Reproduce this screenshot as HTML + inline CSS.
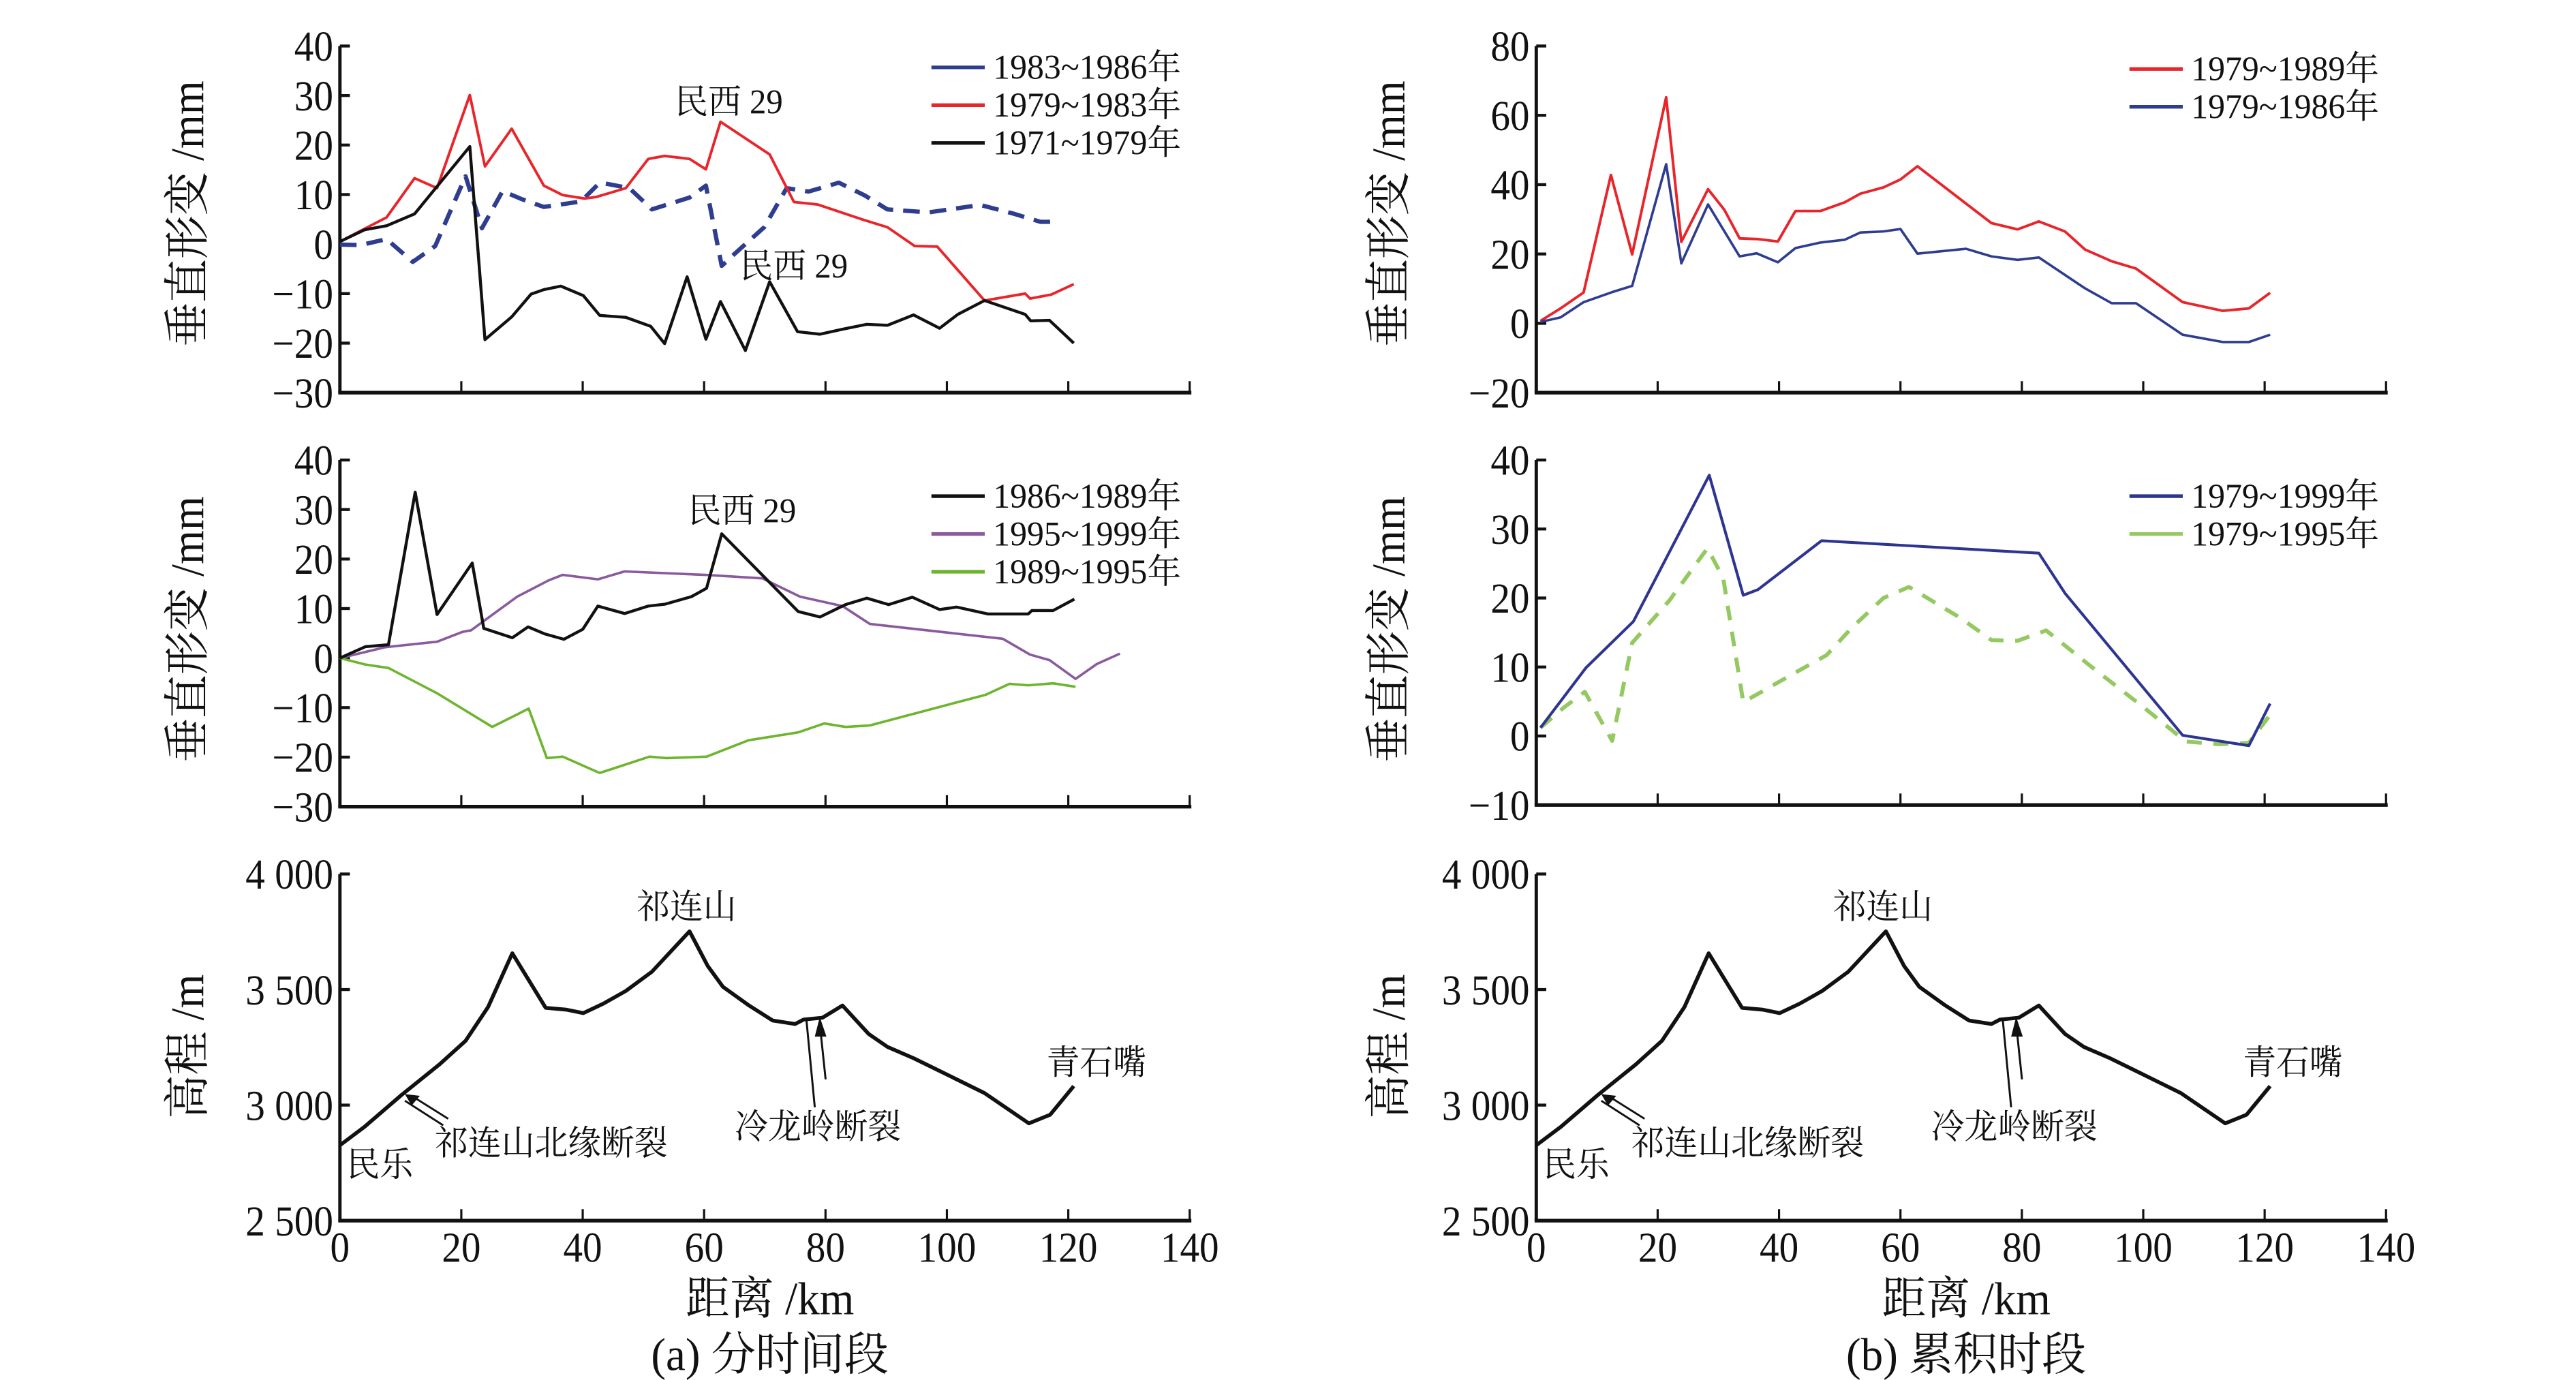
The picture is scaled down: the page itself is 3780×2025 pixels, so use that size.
<!DOCTYPE html>
<html><head><meta charset="utf-8">
<style>
html,body{margin:0;padding:0;background:#fff;}
svg{display:block;}
text{font-family:"Liberation Serif","Noto Serif CJK SC","Noto Sans CJK SC",serif;fill:#111;}
</style></head>
<body>
<svg id="fig" width="3780" height="2025" viewBox="0 0 1546 840" preserveAspectRatio="none" xmlns="http://www.w3.org/2000/svg">
<g id="g"></g>
</svg>
<script>
// ---------- data (x in km, y in mm / m) ----------
const xTicks = [0,20,40,60,80,100,120,140];
const defTicksA = [40,30,20,10,0,-10,-20,-30];
const defTicksC = [80,60,40,20,0,-20];
const defTicksD = [40,30,20,10,0,-10];
const elevTicks = [4000,3500,3000,2500];
const elevTickLabels = ["4 000","3 500","3 000","2 500"];

const s8386x = [0,3.4,7.7,12,15.7,20.7,23.4,26.8,29.9,33.6,39.7,42.8,44.3,47.7,51.4,57.6,60.3,62.9,65,69.9,73.6,77.2,82.2,86.5,90.2,97,105.5,111.1,115.4,117.2];
const s8386y = [-0.1,-0.2,1,-3.6,-0.4,13.7,3.2,10.7,9.1,7.5,8.6,12.4,12.1,11.3,7,9.4,11.8,-4.4,-2,3.4,11.3,10.6,12.4,9.8,7,6.4,7.9,6.1,4.5,4.5];
const s7983x = [0,7.7,12.3,16,21.4,23.9,28.3,33.6,36.7,40.3,42.2,47.1,50.8,53.5,57.6,60.3,62.7,70.8,74.8,78.7,86.5,90.2,94.7,98.4,106.2,112.9,113.7,117.2,120.9];
const s7983y = [0.5,5.4,13.3,11.3,30.1,15.7,23.3,11.8,9.9,9.2,9.5,11.3,17.2,17.8,17.2,15.1,24.7,18.1,8.5,8,4.8,3.4,-0.4,-0.5,-11.4,-10,-11,-10.2,-8.1];
const s7179x = [0,4.1,7.7,12.3,21.4,23.9,28.3,31.5,33.6,36.4,40.1,42.8,47.1,51.2,53.5,57.2,60.3,62.7,66.8,70.8,75.4,79.1,82.8,86.8,90.2,94.5,98.8,101.8,106.2,112.9,113.8,116.9,120.9];
const s7179y = [0.5,2.9,3.7,6.1,19.7,-19.3,-14.7,-10.1,-9.2,-8.5,-10.4,-14.4,-14.8,-16.6,-20.1,-6.6,-19.2,-11.6,-21.5,-7.6,-17.7,-18.2,-17.2,-16.2,-16.4,-14.3,-17,-14.2,-11.4,-14.2,-15.5,-15.4,-20];

const s8689x = [0,4.2,8,12.4,16,21.8,23.7,28.4,31,33.7,36.9,40,42.5,46.9,50.8,53.6,57.9,60.4,62.9,75.5,79.1,83.3,86.8,90.4,94.3,98.8,101.6,106.8,113.4,114,117.5,121];
const s8689y = [0,2.3,2.7,33.5,8.8,19.2,6,4.1,6.3,4.9,3.8,5.8,10.5,9,10.5,10.9,12.4,14.1,25.1,9.4,8.3,10.8,12.1,10.8,12.3,9.8,10.3,8.9,8.9,9.6,9.6,11.9];
const s9599x = [0,7.5,16,20.2,21.6,29.2,34.4,36.7,42.5,46.9,60.2,69.6,75.8,82.8,87.3,109.2,113.7,116.9,121.2,124.7,128.5];
const s9599y = [0,2.2,3.3,5.3,5.6,12.4,15.7,16.8,15.9,17.5,16.8,16.1,12.4,10.5,6.9,3.9,0.7,-0.4,-4.2,-1.2,0.9];
const s8995x = [0,4.2,8,16,25.1,31.1,34.1,36.7,42.8,51,53.8,60.4,67.3,75.5,79.8,83.3,87.3,106.4,110.3,113.4,117.5,121.2];
const s8995y = [0,-1.3,-2,-7.1,-13.9,-10.2,-20.2,-19.9,-23.2,-19.9,-20.2,-19.9,-16.6,-15,-13.2,-13.9,-13.6,-7.4,-5.2,-5.5,-5.1,-5.8];

const c7989x = [0.7,4,7.8,12.3,15.8,21.4,23.9,28.3,31,33.5,36.5,39.8,42.7,46.8,50.8,53.4,57.2,60,62.8,75,79.3,82.8,87.1,90.4,94.8,98.8,106.5,113.1,117.4,120.9];
const c7989y = [0.7,4.3,8.9,42.8,19.9,65.2,23.5,38.7,32.7,24.5,24.3,23.6,32.4,32.4,34.9,37.4,39.2,41.5,45.3,28.9,27.1,29.4,26.5,21.3,17.9,15.8,6.1,3.6,4.3,8.8];
const c7986x = [0.7,4,7.8,12.5,15.8,21.4,23.9,28.3,33.5,36.3,39.8,42.7,46.8,50.8,53.4,57.2,60,62.8,70.8,75,79.3,82.8,90.4,94.8,98.8,106.5,113.1,117.4,120.9];
const c7986y = [0.4,1.7,6.1,9,10.8,45.9,17.3,34.3,19.3,20.2,17.6,21.7,23.3,24.1,26.2,26.5,27.2,20.1,21.5,19.3,18.3,19,10.1,5.8,5.8,-3.3,-5.4,-5.4,-3.3];

const c7999x = [0.7,8.2,16,28.5,34.1,36.5,47,82.8,87.1,106.5,117.4,120.9];
const c7999y = [1.2,9.9,16.6,37.8,20.4,21.2,28.3,26.5,20.7,0.1,-1.4,4.7];
const c7995x = [0.7,4.5,8,12.5,15.8,21.9,28.2,30.8,34.1,42.1,47.8,52,57.2,61.4,69.9,75,79.3,84,91.5,100,107,112.5,117.4,121.1];
const c7995y = [1.2,4.1,6.4,-0.7,13.5,19.6,27.2,22.9,4.9,8.9,11.7,15.7,20,21.6,17.1,13.9,13.8,15.3,10,4.2,-0.8,-1.2,-1,3.3];

const elevX = [0,4.1,10.2,16.4,20.7,24.4,28.4,33.9,37.3,40.1,43.4,47.1,51.4,57.6,60.6,63.1,67.4,71.3,75,76.4,79.5,82.8,87.1,90.2,94.5,99.4,106.2,113.5,117,120.9];
const elevY = [2826,2907,3045,3176,3278,3424,3657,3421,3413,3398,3439,3494,3577,3752,3602,3512,3431,3366,3351,3370,3378,3431,3308,3252,3203,3140,3052,2921,2958,3082];

// ---------- drawing ----------
const NS = "http://www.w3.org/2000/svg";
const root = document.getElementById('g');
function mk(tag, attrs, parent){
  const e = document.createElementNS(NS, tag);
  for (const k in attrs) e.setAttribute(k, attrs[k]);
  (parent||root).appendChild(e);
  return e;
}
function txt(s, x, y, size, anchor, parent, sx){
  const t = mk('text', {x:0, y:0, 'font-size':size, 'text-anchor':anchor||'start',
    transform:'translate(' + x + ',' + y + ') scale(' + (sx||1) + ',1)'}, parent);
  t.textContent = s;
  return t;
}
function makeAxes(px0, px1, py0, py1, ymin, ymax){
  return {
    sx: v => px0 + v / 140 * (px1 - px0),
    sy: v => py1 - (v - ymin) / (ymax - ymin) * (py1 - py0),
    px0, px1, py0, py1
  };
}
function drawPanel(name, ax, yTicks, yLabels, showXLabels){
  const g = mk('g', {});
  
  
  const yl = mk('line', {x1:ax.px0, y1:ax.py0, x2:ax.px0, y2:ax.py1, stroke:'#111','stroke-width':2}, g);
  
  
  const xl = mk('line', {x1:ax.px0-1, y1:ax.py1, x2:ax.px1+1, y2:ax.py1, stroke:'#111','stroke-width':2.2}, g);
  
  
  yTicks.forEach((v,i) => {
    const y = ax.sy(v);
    mk('line', {x1:ax.px0, y1:y, x2:ax.px0+6, y2:y, stroke:'#111','stroke-width':1.8}, g);
    const t = txt(yLabels[i], ax.px0-4, y+9, 26, 'end', g, 0.9);
    
    
  });
  xTicks.forEach(v => {
    const x = ax.sx(v);
    if (v > 0) mk('line', {x1:x, y1:ax.py1, x2:x, y2:ax.py1-7, stroke:'#111','stroke-width':1.3}, g);
    if (showXLabels){
      const t = txt(String(v), x, ax.py1+25, 26, 'middle', g, 0.9);
      
      
    }
  });
}
function series(name, ax, xs, ys, color, width, dash){
  const d = xs.map((x,i) => (i?'L':'M') + ax.sx(x).toFixed(2) + ',' + ax.sy(ys[i]).toFixed(2)).join(' ');
  const p = mk('path', {d:d, fill:'none', stroke:color, 'stroke-width':width, 'stroke-linejoin':'round'});
  if (dash) p.setAttribute('stroke-dasharray', dash);
  
  
}
function legend(name, x, y, label, color){
  const g = mk('g', {});
  
  
  mk('line', {x1:x, y1:y, x2:x+32, y2:y, stroke:color, 'stroke-width':2.2}, g);
  txt(label, x+37, y+7, 21, 'start', g, 0.97);
}
function neg(a){ return a.map(v => v < 0 ? '\u2212' + Math.abs(v) : String(v)); }

const LX0 = 204, LX1 = 714, RX0 = 922, RX1 = 1432;
const aTL = makeAxes(LX0, LX1, 28, 239, -30, 40);
const aML = makeAxes(LX0, LX1, 280, 491, -30, 40);
const aBL = makeAxes(LX0, LX1, 532, 743, 2500, 4000);
const aTR = makeAxes(RX0, RX1, 28, 239, -20, 80);
const aMR = makeAxes(RX0, RX1, 280, 490, -10, 40);
const aBR = makeAxes(RX0, RX1, 532, 743, 2500, 4000);

drawPanel('panel-a-top', aTL, defTicksA, neg(defTicksA), false);
drawPanel('panel-a-middle', aML, defTicksA, neg(defTicksA), false);
drawPanel('panel-a-elevation', aBL, elevTicks, elevTickLabels, true);
drawPanel('panel-b-top', aTR, defTicksC, neg(defTicksC), false);
drawPanel('panel-b-middle', aMR, defTicksD, neg(defTicksD), false);
drawPanel('panel-b-elevation', aBR, elevTicks, elevTickLabels, true);

series('line-1983-1986', aTL, s8386x, s8386y, '#2e3d8f', 2.6, '10,6');
series('line-1979-1983', aTL, s7983x, s7983y, '#e8252b', 1.6);
series('line-1971-1979', aTL, s7179x, s7179y, '#111', 1.8);
series('line-1995-1999', aML, s9599x, s9599y, '#8a5a9e', 1.5);
series('line-1989-1995', aML, s8995x, s8995y, '#6db52e', 1.5);
series('line-1986-1989', aML, s8689x, s8689y, '#111', 1.8);
series('line-1979-1989', aTR, c7989x, c7989y, '#e8252b', 1.6);
series('line-1979-1986', aTR, c7986x, c7986y, '#2e3d8f', 1.5);
series('line-1979-1995', aMR, c7995x, c7995y, '#94c860', 2.4, '9,7');
series('line-1979-1999', aMR, c7999x, c7999y, '#2e3591', 1.7);
series('elevation-profile-a', aBL, elevX, elevY, '#111', 2.3);
series('elevation-profile-b', aBR, elevX, elevY, '#111', 2.3);

legend('legend-1983-1986', 559, 41, '1983~1986年', '#2e3d8f');
legend('legend-1979-1983', 559, 64, '1979~1983年', '#e8252b');
legend('legend-1971-1979', 559, 87, '1971~1979年', '#111');
legend('legend-1986-1989', 559, 302, '1986~1989年', '#111');
legend('legend-1995-1999', 559, 325, '1995~1999年', '#8a5a9e');
legend('legend-1989-1995', 559, 348, '1989~1995年', '#6db52e');
legend('legend-1979-1989', 1278, 42, '1979~1989年', '#e8252b');
legend('legend-1979-1986', 1278, 65, '1979~1986年', '#2e3d8f');
legend('legend-1979-1999', 1278, 302, '1979~1999年', '#2e3591');
legend('legend-1979-1995', 1278, 325, '1979~1995年', '#94c860');

function label(name, s, x, y, size, anchor){
  const t = txt(s, x, y, size, anchor, null, 0.95);
  
  
  return t;
}
label('annotation-minxi29-top', '民西 29', 405, 69, 21);
label('annotation-minxi29-low', '民西 29', 444, 169, 21);
label('annotation-minxi29-mid', '民西 29', 413, 318, 21);

function yTitle(name, s, x, y){
  const t = mk('text', {x:0, y:0, 'font-size':28, 'text-anchor':'middle',
    transform:'translate(' + x + ',' + y + ') rotate(-90) scale(0.95,1)'});
  t.textContent = s;
  
  
}
yTitle('y-axis-title-a-top', '垂直形变 /mm', 122, 130);
yTitle('y-axis-title-a-middle', '垂直形变 /mm', 122, 383);
yTitle('y-axis-title-a-elevation', '高程 /m', 122, 637);
yTitle('y-axis-title-b-top', '垂直形变 /mm', 843, 130);
yTitle('y-axis-title-b-middle', '垂直形变 /mm', 843, 383);
yTitle('y-axis-title-b-elevation', '高程 /m', 843, 637);

[[0,'a','(a) 分时间段'],[718,'b','(b) 累积时段']].forEach(([dx, k, cap]) => {
  label('x-axis-title-' + k, '距离 /km', 462+dx, 800, 28, 'middle');
  label('caption-' + k, cap, 462+dx, 834, 28, 'middle');
  label('label-qilianshan-' + k, '祁连山', 412+dx, 559, 21, 'middle');
  label('label-qingshizui-' + k, '青石嘴', 658+dx, 654, 21, 'middle');
  label('label-minle-' + k, '民乐', 208+dx, 716, 21, 'start');
  label('label-north-qilian-fault-' + k, '祁连山北缘断裂', 261+dx, 703, 21, 'start');
  label('label-lenglongling-fault-' + k, '冷龙岭断裂', 441+dx, 693, 21, 'start');
  // fault arrows
  mk('line', {x1:266+dx, y1:685, x2:243+dx, y2:670, stroke:'#111','stroke-width':1.2});
  mk('line', {x1:269+dx, y1:681, x2:247+dx, y2:667, stroke:'#111','stroke-width':1.2});
  mk('polygon', {points:(243+dx)+',666 '+(252+dx)+',667 '+(247+dx)+',673', fill:'#111'});
  mk('line', {x1:489+dx, y1:674, x2:484+dx, y2:621, stroke:'#111','stroke-width':1.2});
  mk('line', {x1:495.5+dx, y1:657, x2:492.5+dx, y2:628, stroke:'#111','stroke-width':1.2});
  mk('polygon', {points:(492+dx)+',619 '+(489+dx)+',631 '+(496+dx)+',631', fill:'#111'});
});
</script>
</body></html>
